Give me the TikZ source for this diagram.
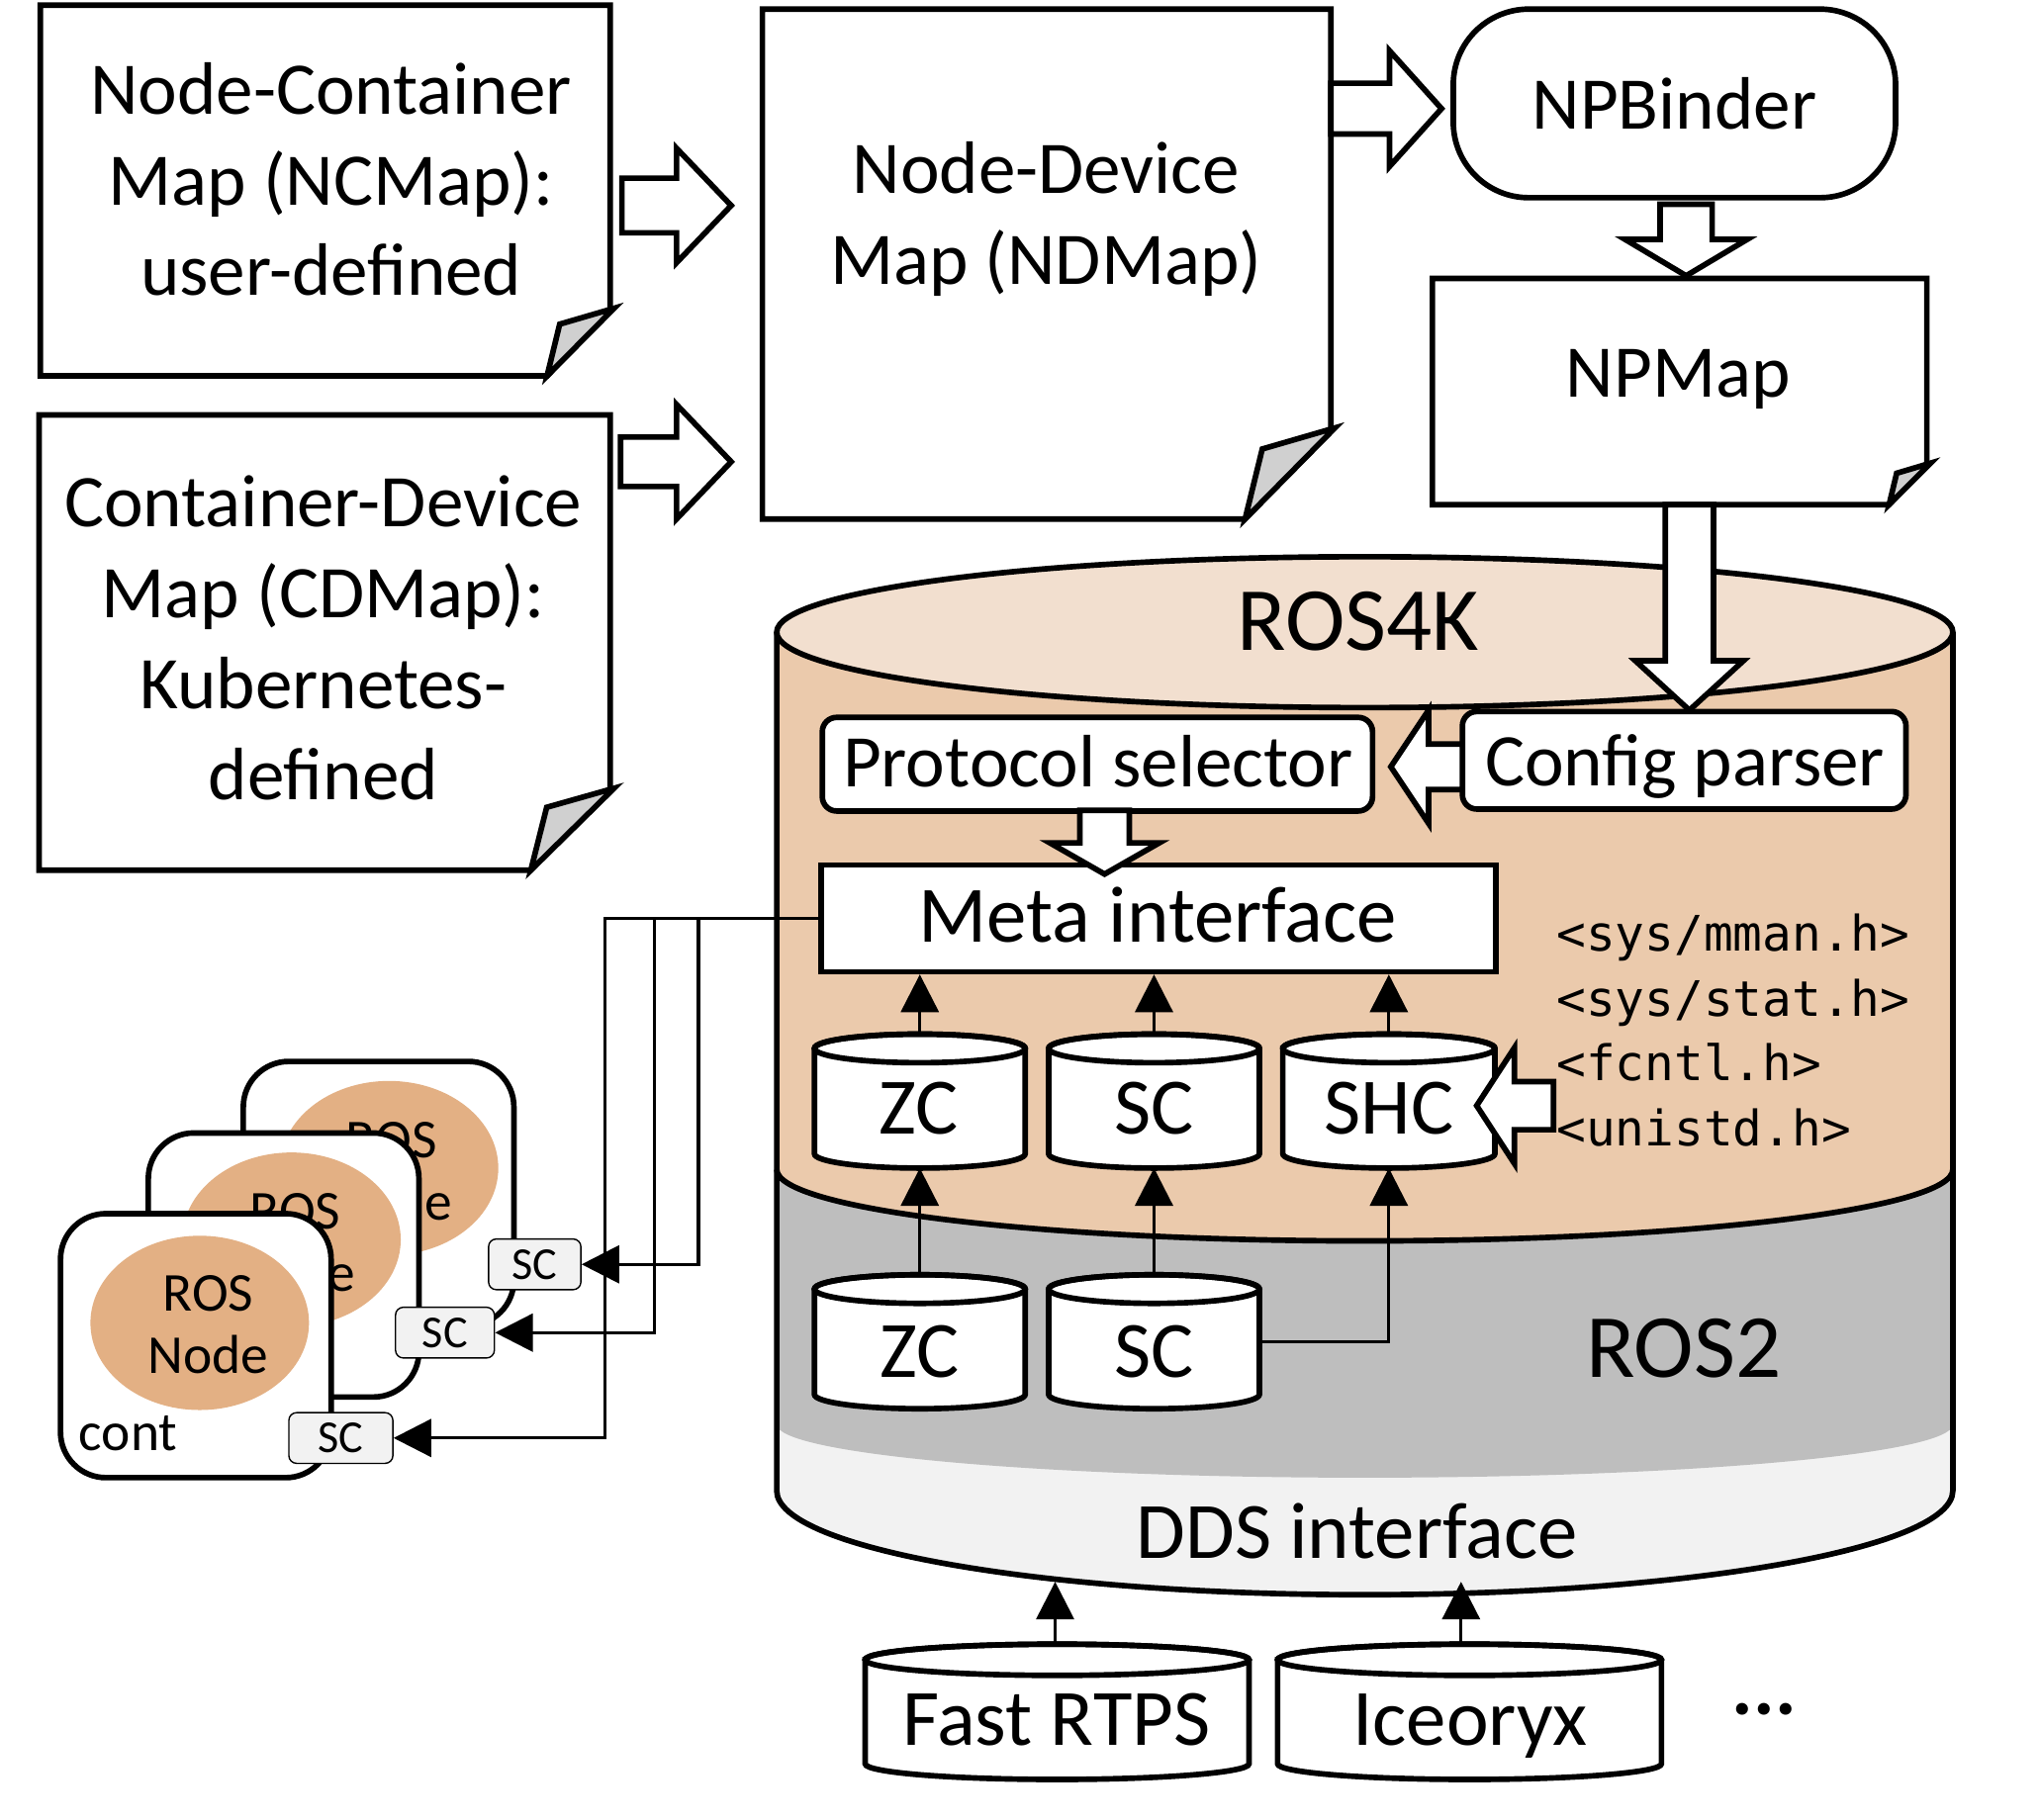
\documentclass[tikz,border=0pt]{standalone}
\usepackage{fontspec}
\setmainfont{Carlito}
\newfontfamily\mymonofont{DejaVu Sans Mono}
\usetikzlibrary{arrows.meta,calc}
\definecolor{peachtop}{RGB}{242,223,207}
\definecolor{peachbody}{RGB}{235,202,172}
\definecolor{rosgray}{RGB}{190,190,190}
\definecolor{ddsgray}{RGB}{242,242,242}
\definecolor{nodepeach}{RGB}{227,176,132}
\definecolor{flapgray}{RGB}{208,208,208}
\definecolor{scfill}{RGB}{242,242,242}
\newcommand{\myfdoc}{\fontsize{32.5}{39.8}\selectfont}
\newcommand{\myfbig}{\fontsize{39.5}{47}\selectfont}
\newcommand{\myfmid}{\fontsize{35}{42}\selectfont}
\newcommand{\myfnode}{\fontsize{24}{27.3}\selectfont}
\newcommand{\myfsc}{\fontsize{20}{24}\selectfont}
\newcommand{\myfmono}{\mymonofont\fontsize{21.4}{28.45}\selectfont}
% document shape: x1 y1 x2 y2 foldw foldh
\newcommand{\mydoc}[6]{%
  \draw[thickline,fill=white,line join=miter] (#1,#2) -- (#3,#2) -- (#3,{#4-#6}) -- ({#3-#5},#4) -- (#1,#4) -- cycle;
  \draw[thickline,fill=flapgray,line join=miter] ({#3-#5},#4) -- ({#3-0.8*#5},{#4-0.78*#6}) -- ({#3+3},{#4-#6-1}) -- cycle;
}
% horizontal block arrow: x0 xbase xtip yc shafthalf headhalf
\newcommand{\myharrow}[6]{%
  \draw[blockarrow] (#1,{#4-#5}) -- (#2,{#4-#5}) -- (#2,{#4-#6}) -- (#3,#4) -- (#2,{#4+#6}) -- (#2,{#4+#5}) -- (#1,{#4+#5}) -- cycle;
}
% vertical block arrow: y0 ybase ytip xc shafthalf headhalf
\newcommand{\myvarrow}[6]{%
  \draw[blockarrow] ({#4-#5},#1) -- ({#4-#5},#2) -- ({#4-#6},#2) -- (#4,#3) -- ({#4+#6},#2) -- ({#4+#5},#2) -- ({#4+#5},#1) -- cycle;
}
% cylinder: name x1 x2 ytop ybot r fill
\newcommand{\mycyl}[7]{%
  \draw[thickline,fill=#7] (#2,#4) -- (#2,#5) arc[start angle=180,end angle=0,x radius={(#3-#2)/2},y radius=#6] -- (#3,#4) arc[start angle=0,end angle=-180,x radius={(#3-#2)/2},y radius=#6] -- cycle;
  \draw[thickline] ({(#2+#3)/2},#4) ellipse[x radius={(#3-#2)/2},y radius=#6];
  \coordinate (#1-top) at ({(#2+#3)/2},{#4-#6});
  \coordinate (#1-bot) at ({(#2+#3)/2},{#5+#6});
  \coordinate (#1-e) at (#3,{(#4+#5)/2});
}
% container card: x1 y1 ellipse-cx ellipse-cy
\newcommand{\mycard}[4]{%
  \draw[thickline,fill=white,rounded corners=0.7cm] (#1,#2) rectangle ({#1+208},{#2+203});
  \fill[nodepeach] (#3,#4) ellipse[x radius=84,y radius=67];
}
\begin{document}
\begin{tikzpicture}[x=0.02cm,y=-0.02cm,
  thickline/.style={line width=2.45pt},
  thinline/.style={line width=1.4pt},
  conn/.style={thinline,-{Triangle[length=16.5pt,width=16.5pt]}},
  blockarrow/.style={thickline,fill=white,line join=miter},
  txt/.style={inner sep=0pt,anchor=base},
  plainbox/.style={draw,thickline,fill=white,inner sep=0pt},
  scbox/.style={draw,line width=0.6pt,fill=scfill,rounded corners=0.12cm,inner sep=0pt,minimum height=0.78cm,font=\myfsc}]
\useasboundingbox (0,0) rectangle (1568,1399);

% ---------- documents ----------
\mydoc{31}{4}{469}{289}{48.5}{51}
\node[txt] (ncmap) at (254.5,87.5) {\myfdoc\begin{tabular}[t]{@{}c@{}}Node-Container\\Map (NCMap):\\user-defined\end{tabular}};
\mydoc{30}{319}{469}{669}{61}{62}
\node[txt] (cdmap) at (248.5,405) {\myfdoc\begin{tabular}[t]{@{}c@{}}Container-Device\\Map (CDMap):\\Kubernetes-\\defined\end{tabular}};
\mydoc{586}{7}{1023}{399}{66}{69}
\node[txt] (ndmap) at (804,149) {\myfdoc\begin{tabular}[t]{@{}c@{}}Node-Device\\Map (NDMap)\end{tabular}};
\mydoc{1101}{214}{1481}{388}{29}{31}
\node[txt] (npmap) at (1290,305.5) {\myfdoc NPMap};
\node[plainbox,rounded corners=1.16cm,minimum width=6.8cm,minimum height=2.9cm] (npbinder) at (1287,79.5) {};
\node[txt] (npbindertxt) at (1287,99) {\myfdoc NPBinder};

% ---------- block arrows (top) ----------
\myharrow{478}{520}{562}{158}{21}{44}
\myharrow{477}{520}{562}{355}{19}{44}
\myharrow{1023}{1068}{1108}{83.5}{19.5}{44.5}
\myvarrow{157}{184}{212}{1296}{20}{47}

% ---------- big cylinder ----------
\fill[ddsgray] (597,486) -- (597,1146) arc[start angle=180,end angle=0,x radius=452,y radius=80] -- (1501,486) -- cycle;
\fill[rosgray] (597,486) -- (597,1095) arc[start angle=180,end angle=0,x radius=452,y radius=41] -- (1501,486) -- cycle;
\fill[peachbody] (597,486) -- (597,899) arc[start angle=180,end angle=0,x radius=452,y radius=55] -- (1501,486) -- cycle;
\draw[thickline,fill=peachtop] (1049,486) ellipse[x radius=452,y radius=58];
\draw[thickline] (597,899) arc[start angle=180,end angle=0,x radius=452,y radius=55];
\draw[thickline] (597,486) -- (597,1146) arc[start angle=180,end angle=0,x radius=452,y radius=80] -- (1501,486);
\node[txt] (ros4k) at (1044,500) {\myfbig ROS4K};
\node[txt] (ros2) at (1294,1059) {\myfbig ROS2};
\node[txt] (dds) at (1043,1198) {\myfmid DDS interface};

\myvarrow{388}{508}{546}{1298.5}{18.5}{41.5}

% ---------- ROS4K internals ----------
\node[plainbox,rounded corners=0.22cm,minimum width=8.46cm,minimum height=1.44cm] (protsel) at (843.5,587.5) {};
\node[txt] (protseltxt) at (844,605) {\myfdoc Protocol selector};
\node[plainbox,rounded corners=0.22cm,minimum width=6.82cm,minimum height=1.5cm] (config) at (1294.5,584.5) {};
\node[txt] (configtxt) at (1295,604) {\myfdoc Config parser};
\node[plainbox,minimum width=10.38cm,minimum height=1.64cm] (meta) at (890.5,706) {};
\node[txt] (metatxt) at (890,724) {\myfmid Meta interface};
\myharrow{1124}{1098}{1069}{589.5}{17.5}{43.5}
\myvarrow{623}{648}{672}{849}{19}{42}

\mycyl{zc1}{626}{788}{806}{887}{11}{white}
\mycyl{sc1}{806}{968}{806}{887}{11}{white}
\mycyl{shc}{986}{1149}{806}{887}{11}{white}
\node[txt] (zc1txt) at (706,872) {\myfmid ZC};
\node[txt] (sc1txt) at (887,872) {\myfmid SC};
\node[txt] (shctxt) at (1067.5,872) {\myfmid SHC};
\myharrow{1194}{1164}{1135}{850}{18.5}{44.5}
\node[txt,anchor=base west] (headers) at (1196,731) {\myfmono\begin{tabular}[t]{@{}l@{}}<sys/mman.h>\\<sys/stat.h>\\<fcntl.h>\\<unistd.h>\end{tabular}};

% ---------- ROS2 internals ----------
\mycyl{zc2}{626}{788}{991}{1072}{11}{white}
\mycyl{sc2}{806}{968}{991}{1072}{11}{white}
\node[txt] (zc2txt) at (707,1059) {\myfmid ZC};
\node[txt] (sc2txt) at (887,1059) {\myfmid SC};

% ---------- DDS implementations ----------
\mycyl{fast}{665}{960}{1276}{1356}{12}{white}
\mycyl{ice}{982}{1277}{1276}{1356}{12}{white}
\node[txt] (fasttxt) at (812,1342) {\myfmid Fast RTPS};
\node[txt] (icetxt) at (1130,1342) {\myfmid Iceoryx};
\node[txt,anchor=base west] (dots) at (1331,1318) {\myfmid\bfseries ...};

% ---------- containers ----------
\mycard{187}{816}{299}{898}
\node[txt] (rosnodeB) at (301,890) {\myfnode\begin{tabular}[t]{@{}c@{}}ROS\\Node\end{tabular}};
\node[scbox,minimum width=1.42cm] (scB) at (411,972) {SC};
\mycard{114}{871}{224}{953}
\node[txt] (rosnodeM) at (227,945) {\myfnode\begin{tabular}[t]{@{}c@{}}ROS\\Node\end{tabular}};
\node[scbox,minimum width=1.52cm] (scM) at (342,1024.5) {SC};
\mycard{46.5}{933}{153.5}{1017}
\node[txt] (rosnodeF) at (160,1008) {\myfnode\begin{tabular}[t]{@{}c@{}}ROS\\Node\end{tabular}};
\node[txt] (cont) at (98.5,1115.5) {\myfnode cont};
\node[scbox,minimum width=1.6cm] (scF) at (262,1105.5) {SC};

% ---------- thin connectors ----------
\draw[conn] (meta.west) -- ++(-92,0) |- (scB.east);
\draw[conn] (meta.west) -- ++(-126,0) |- (scM.east);
\draw[conn] (meta.west) -- ++(-164,0) |- (scF.east);
\draw[conn] (zc1-top) -- (zc1-top |- meta.south);
\draw[conn] (sc1-top) -- (sc1-top |- meta.south);
\draw[conn] (shc-top) -- (shc-top |- meta.south);
\draw[conn] (zc2-top) -- (zc1-bot);
\draw[conn] (sc2-top) -- (sc1-bot);
\draw[conn] (sc2-e) -| (shc-bot);
\coordinate (ddsA) at (811,1216);
\coordinate (ddsB) at (1123,1216);
\draw[conn] (ddsA |- fast-top) -- (ddsA);
\draw[conn] (ddsB |- ice-top) -- (ddsB);
\end{tikzpicture}
\end{document}
